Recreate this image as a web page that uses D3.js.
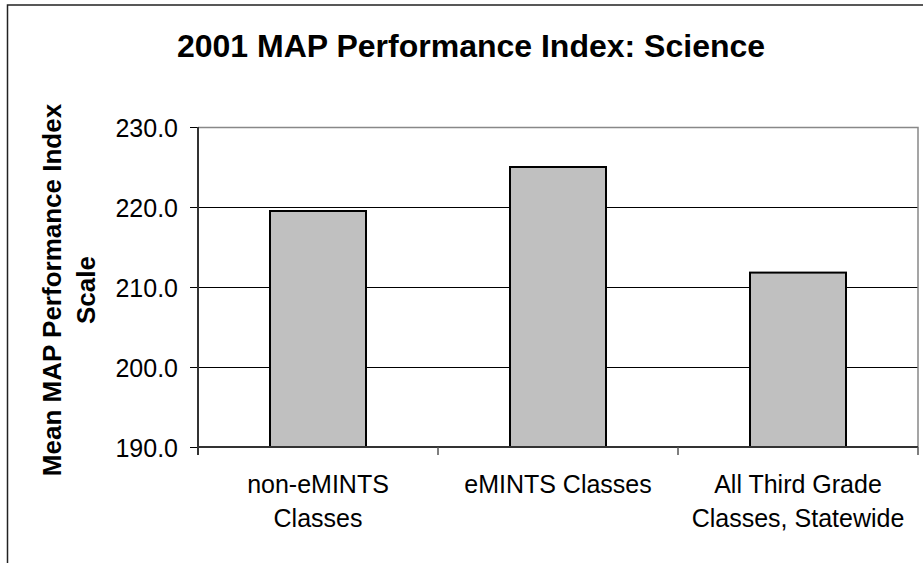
<!DOCTYPE html>
<html>
<head>
<meta charset="utf-8">
<script src="https://cdn.jsdelivr.net/npm/d3@7"></script>
<style>
  body { margin: 0; background: white; }
  text { font-family: "Liberation Sans", Arial, sans-serif; fill: #000; }
</style>
</head>
<body>
<div id="chart"></div>
<script>
// data
let categories = ["non-eMINTS Classes", "eMINTS Classes", "All Third Grade Classes, Statewide"];
let catLines = [["non-eMINTS", "Classes"], ["eMINTS Classes"], ["All Third Grade", "Classes, Statewide"]];
let values = [219.5, 225.0, 211.8];
let yTicks = [190, 200, 210, 220, 230];

let W = 923, H = 563;
let plot = { left: 198, right: 918, top: 127, bottom: 447 };

let svg = d3.select("#chart").append("svg")
  .attr("width", W)
  .attr("height", H);

// outer chart frame (runs off the right / bottom edge)
svg.append("rect")
  .attr("x", 7.5).attr("y", 5)
  .attr("width", 1000).attr("height", 1000)
  .attr("fill", "white")
  .attr("stroke", "#222").attr("stroke-width", 1.5);

let x = d3.scaleBand().domain(categories).range([plot.left, plot.right]).paddingInner(0).paddingOuter(0);
let y = d3.scaleLinear().domain([190, 230]).range([plot.bottom, plot.top]);

// title
svg.append("text")
  .attr("x", 471).attr("y", 57)
  .attr("text-anchor", "middle")
  .style("font-size", "32px").style("font-weight", "bold")
  .text("2001 MAP Performance Index: Science");

// gridlines
svg.append("g").selectAll("line")
  .data(yTicks.filter(d => d > 190 && d < 230))
  .enter().append("line")
  .attr("x1", plot.left).attr("x2", plot.right)
  .attr("y1", d => y(d) + 0.5).attr("y2", d => y(d) + 0.5)
  .attr("stroke", "#000").attr("stroke-width", 1);

// plot area border (top & right in grey)
svg.append("path")
  .attr("d", `M${plot.left},${plot.top + 0.5}H${plot.right}V${plot.bottom}`)
  .attr("fill", "none").attr("stroke", "#888").attr("stroke-width", 1.5);

// bars
let barW = x.bandwidth() * 0.4;
svg.selectAll(".bar")
  .data(values)
  .enter().append("rect")
  .attr("class", "bar")
  .attr("x", (d, i) => x(categories[i]) + (x.bandwidth() - barW) / 2)
  .attr("width", barW)
  .attr("y", d => y(d))
  .attr("height", d => y(190) - y(d))
  .attr("fill", "#c0c0c0")
  .attr("stroke", "#000").attr("stroke-width", 2);

// y axis
let yAxis = svg.append("g")
  .attr("transform", `translate(${plot.left},0)`)
  .call(d3.axisLeft(y).tickValues(yTicks).tickFormat(d3.format(".1f")).tickSize(8).tickPadding(12));
yAxis.select(".domain").remove();
yAxis.selectAll(".tick line").attr("stroke", "#000");
yAxis.selectAll(".tick text")
  .style("font-size", "25px")
  .attr("dy", "0.36em")
  .attr("font-family", null);
svg.append("line")
  .attr("x1", plot.left).attr("x2", plot.left)
  .attr("y1", plot.top).attr("y2", plot.bottom + 8)
  .attr("stroke", "#333").attr("stroke-width", 2);

// x axis line + category boundary ticks
svg.append("line")
  .attr("x1", plot.left).attr("x2", plot.right)
  .attr("y1", plot.bottom).attr("y2", plot.bottom)
  .attr("stroke", "#333").attr("stroke-width", 2);
let bounds = categories.map(c => x(c)).concat([x(categories[categories.length - 1]) + x.bandwidth()]);
svg.append("g").selectAll("line")
  .data(bounds.slice(1))
  .enter().append("line")
  .attr("x1", d => d).attr("x2", d => d)
  .attr("y1", plot.bottom).attr("y2", plot.bottom + 8)
  .attr("stroke", "#555").attr("stroke-width", 1.5);

// category labels
let labels = svg.append("g").selectAll("text")
  .data(categories)
  .enter().append("text")
  .attr("text-anchor", "middle")
  .style("font-size", "25px")
  .attr("transform", d => `translate(${x(d) + x.bandwidth() / 2},${plot.bottom + 46})`);
labels.each(function(d, i) {
  d3.select(this).selectAll("tspan")
    .data(catLines[i])
    .enter().append("tspan")
    .attr("x", 0)
    .attr("dy", (t, j) => j === 0 ? 0 : 34)
    .text(t => t);
});

// y axis title
let yTitle = svg.append("text")
  .attr("transform", "translate(61,290) rotate(-90)")
  .attr("text-anchor", "middle")
  .style("font-size", "26px").style("font-weight", "bold");
yTitle.append("tspan").attr("x", 0).attr("dy", 0).text("Mean MAP Performance Index");
yTitle.append("tspan").attr("x", 0).attr("dy", 34).text("Scale");
</script>
</body>
</html>
